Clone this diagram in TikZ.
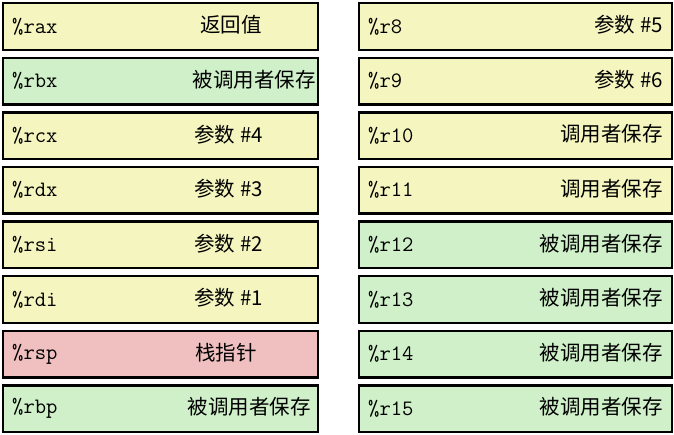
\documentclass[tikz,border=0pt]{standalone}
\usepackage{fontspec}
\setmainfont{Liberation Sans}
\newfontfamily\cjk{Noto Sans CJK SC}
\definecolor{regyellow}{RGB}{245,245,192}
\definecolor{reggreen}{RGB}{207,240,201}
\definecolor{regpink}{RGB}{240,192,192}
\begin{document}
\begin{tikzpicture}[x=1pt,y=-1pt,
  regbox/.style={draw=black,line width=2.4pt,rectangle,minimum width=315pt,minimum height=46.5pt,inner sep=0pt,anchor=north west},
  regname/.style={anchor=west,inner sep=0pt,font=\ttfamily\fontsize{22}{23}\selectfont},
  reglabel/.style={anchor=east,inner sep=0pt,font=\cjk\fontsize{20.5}{21}\selectfont}]
\useasboundingbox (0,0) rectangle (674,434);
% left column
\foreach \i/\nm/\col/\lab/\lx in {
  0/rax/regyellow/返回值/262,
  1/rbx/reggreen/被调用者保存/316,
  2/rcx/regyellow/参数 \#4/263,
  3/rdx/regyellow/参数 \#3/263,
  4/rsi/regyellow/参数 \#2/263,
  5/rdi/regyellow/参数 \#1/263,
  6/rsp/regpink/栈指针/257,
  7/rbp/reggreen/被调用者保存/311}{
  \node[regbox,fill=\col] (L\i) at (2,{2+54.6*\i}) {};
  \node[regname] (Ln\i) at ([xshift=10pt]L\i.west) {\%\nm};
  \node[reglabel] (Ll\i) at (\lx,{25+54.6*\i}) {\lab};
}
% right column
\foreach \i/\nm/\col/\lab in {
  0/r8/regyellow/参数 \#5,
  1/r9/regyellow/参数 \#6,
  2/r10/regyellow/调用者保存,
  3/r11/regyellow/调用者保存,
  4/r12/reggreen/被调用者保存,
  5/r13/reggreen/被调用者保存,
  6/r14/reggreen/被调用者保存,
  7/r15/reggreen/被调用者保存}{
  \node[regbox,fill=\col,minimum width=313pt] (R\i) at (358,{2+54.6*\i}) {};
  \node[regname] (Rn\i) at ([xshift=10pt]R\i.west) {\%\nm};
  \node[reglabel] (Rl\i) at (663,{25+54.6*\i}) {\lab};
}
\end{tikzpicture}
\end{document}
